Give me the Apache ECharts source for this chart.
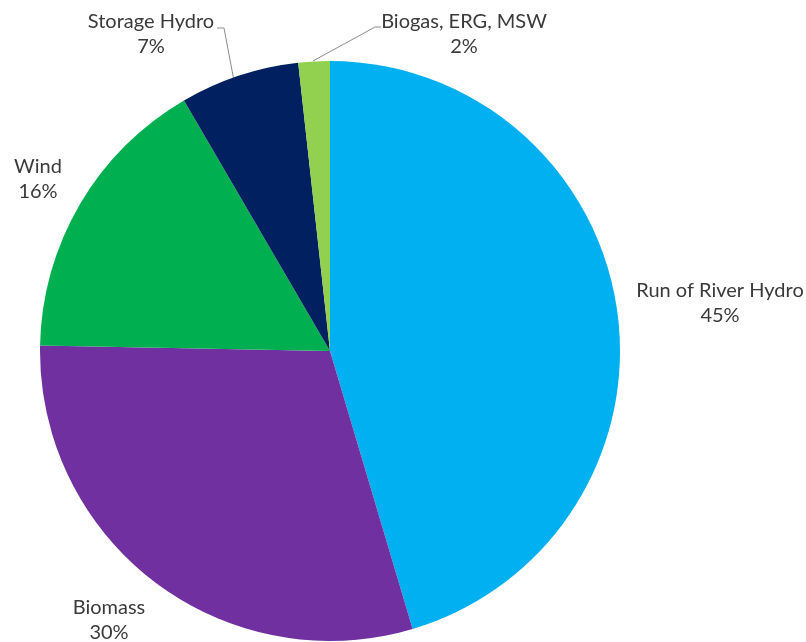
<!DOCTYPE html>
<html>
<head>
<meta charset="utf-8">
<script src="https://cdn.jsdelivr.net/npm/echarts@6/dist/echarts.min.js"></script>
<style>html,body{margin:0;padding:0;background:#fff}#c{width:806px;height:642px}</style>
</head>
<body>
<div id="c"></div>
<script>
var categories = ['Run of River Hydro', 'Biomass', 'Wind', 'Storage Hydro', 'Biogas, ERG, MSW'];
var values = [45.4, 29.9, 16.3, 6.65, 1.75];
var colors = ['#00B0F0', '#7030A0', '#00B050', '#002060', '#92D050'];

// label placement (layout only)
var labelPos = [
  {x: 720, y: 303},
  {x: 109, y: 620},
  {x: 38, y: 179},
  {x: 151, y: 34, line: [[217, 28], [224, 28], [238, 102]]},
  {x: 464, y: 34, line: [[381, 27], [375, 27], [313, 61]]}
];

var chart = echarts.init(document.getElementById('c'));
chart.setOption({
  animation: false,
  series: [{
    type: 'pie',
    center: [330, 351],
    radius: [0, 290],
    startAngle: 90,
    clockwise: true,
    avoidLabelOverlap: false,
    itemStyle: {borderWidth: 0},
    label: {
      show: true,
      position: 'outside',
      fontFamily: 'Lato',
      fontSize: 20,
      lineHeight: 25,
      color: '#3a3a3a',
      align: 'center',
      formatter: function (p) { return p.name + '\n' + Math.round(p.percent) + '%'; }
    },
    labelLine: {show: true, lineStyle: {color: '#8c8c8c', width: 1}, smooth: false},
    labelLayout: function (params) {
      var lp = labelPos[params.dataIndex];
      var o = {x: lp.x, y: lp.y, align: 'center', verticalAlign: 'middle'};
      if (lp.line) o.labelLinePoints = lp.line;
      return o;
    },
    data: categories.map(function (n, i) {
      var d = {name: n, value: values[i], itemStyle: {color: colors[i]}};
      if (!labelPos[i].line) d.labelLine = {show: false};
      return d;
    })
  }]
});
</script>
</body>
</html>
